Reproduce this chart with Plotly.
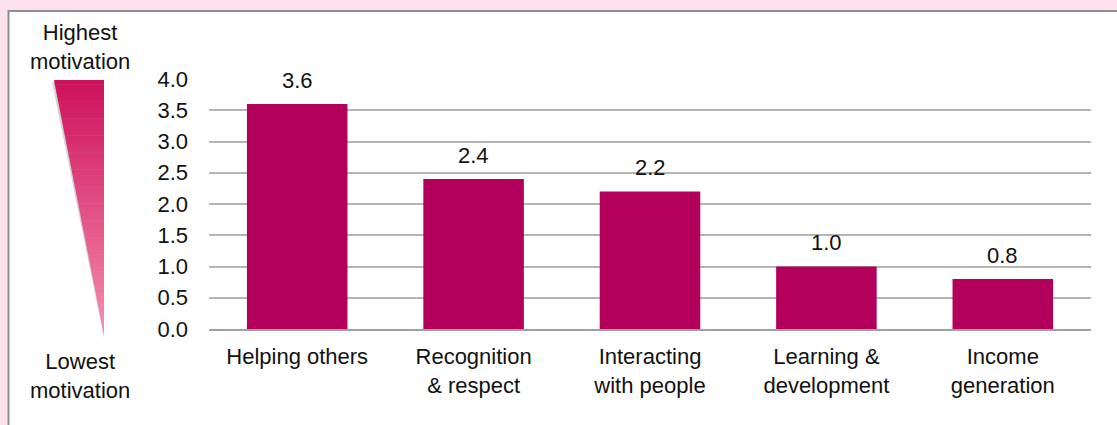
import plotly.graph_objects as go

categories = ['Helping others', 'Recognition<br>& respect', 'Interacting<br>with people',
              'Learning &<br>development', 'Income<br>generation']
scores = [3.6, 2.4, 2.2, 1.0, 0.8]
y_ticks = [0.0, 0.5, 1.0, 1.5, 2.0, 2.5, 3.0, 3.5, 4.0]

W, H = 1117, 425
L, R, T, B = 209, 26, 79, 96
PW, PH = W - L - R, H - T - B


def px_x(x):
    return (x - L) / PW


def px_y(y):
    return (H - B - y) / PH


FONT = 'Liberation Sans, Arial, sans-serif'
BAR = '#b3005a'
FS = 22

fig = go.Figure(go.Bar(
    x=categories,
    y=scores,
    marker=dict(color=BAR, line=dict(width=0)),
    hoverinfo='skip',
))

# data labels above bars
for c, v in zip(categories, scores):
    fig.add_annotation(x=c, y=v, text=f'{v:.1f}', showarrow=False,
                       yanchor='middle', yshift=24,
                       font=dict(size=FS, color='#111111', family=FONT))

shapes = []
# white panel with grey border
shapes.append(dict(type='rect', xref='paper', yref='paper', layer='below',
                   x0=px_x(8.5), x1=px_x(1200), y0=px_y(11), y1=px_y(500),
                   fillcolor='white', line=dict(color='#8f8f8f', width=2)))

# gradient triangle (sliced) with a soft shadow
top, bot = 80, 335
xl, xr = 54, 104
shapes.append(dict(type='path', xref='paper', yref='paper',
                   path='M {} {} L {} {} L {} {} Z'.format(
                       px_x(xl - 2), px_y(top + 2), px_x(xr), px_y(top + 2), px_x(xr), px_y(bot + 3)),
                   fillcolor='rgba(0,0,0,0.18)', line=dict(width=0)))
c_top = (204, 16, 92)
c_bot = (248, 142, 172)
n = 60
for i in range(n):
    y0 = top + (bot - top) * i / n
    y1 = top + (bot - top) * (i + 1) / n
    xa = xl + (xr - xl) * i / n
    xb = xl + (xr - xl) * (i + 1) / n
    f = (i + 0.5) / n
    col = 'rgb({},{},{})'.format(*[round(a + (b - a) * f) for a, b in zip(c_top, c_bot)])
    path = 'M {} {} L {} {} L {} {} L {} {} Z'.format(
        px_x(xa), px_y(y0), px_x(xr), px_y(y0), px_x(xr), px_y(y1 + 0.6), px_x(xb), px_y(y1 + 0.6))
    shapes.append(dict(type='path', xref='paper', yref='paper', path=path,
                       fillcolor=col, line=dict(width=0)))

fig.update_layout(shapes=shapes)

for txt, y in [('Highest<br>motivation', 47), ('Lowest<br>motivation', 376)]:
    fig.add_annotation(xref='paper', yref='paper', x=px_x(80), y=px_y(y), text=txt,
                       showarrow=False, xanchor='center', yanchor='middle',
                       font=dict(size=FS, color='#111111', family=FONT))

fig.update_layout(
    width=W,
    height=H,
    margin=dict(l=L, r=R, t=T, b=B),
    paper_bgcolor='#fde1ec',
    plot_bgcolor='white',
    bargap=0.43,
    showlegend=False,
    font=dict(family=FONT, size=FS, color='#111111'),
)

fig.update_xaxes(
    showgrid=False,
    showline=True,
    linecolor='#a0a0a0',
    linewidth=2,
    ticks='',
    ticklabelstandoff=7,
    tickfont=dict(size=FS, family=FONT, color='#111111'),
)
fig.update_yaxes(
    range=[0, 4],
    tickvals=y_ticks,
    ticktext=[f'{t:.1f}' for t in y_ticks],
    showgrid=True,
    gridcolor='#b4b4b4',
    gridwidth=2,
    zeroline=False,
    showline=False,
    ticks='',
    ticklabelstandoff=20,
    tickfont=dict(size=FS, family=FONT, color='#111111'),
)

fig.write_html('out.html', config={'displayModeBar': False},
               post_script="document.body.style.margin='0';document.body.style.background='#fde1ec';")
